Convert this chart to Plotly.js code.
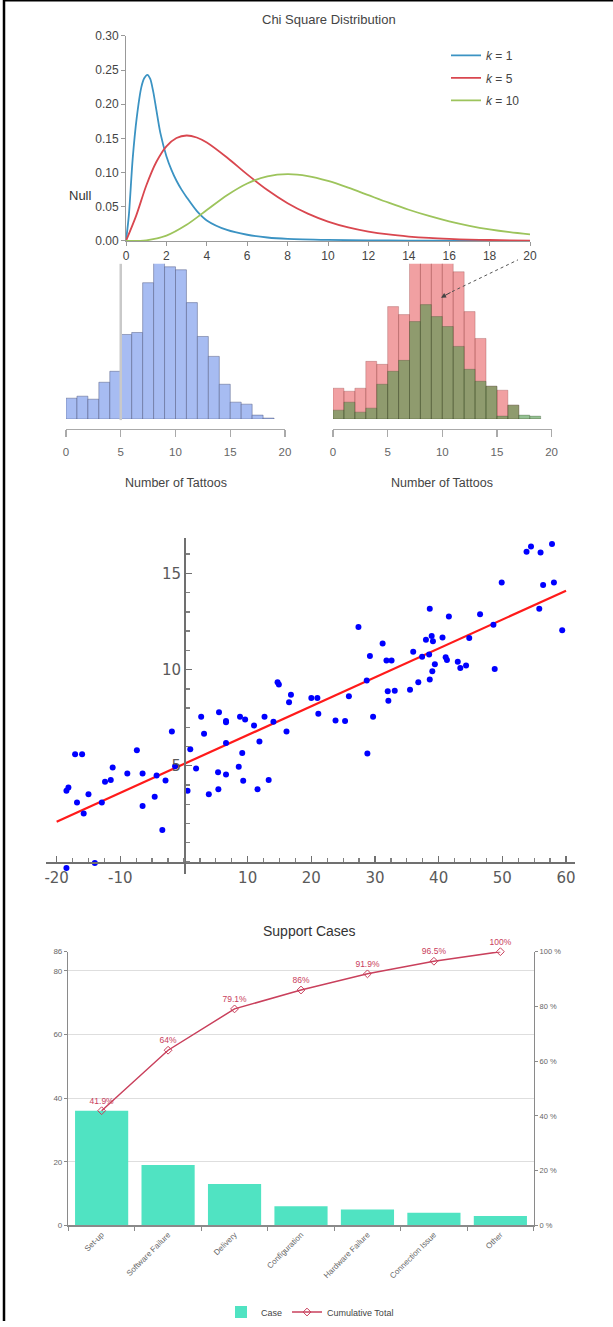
<!DOCTYPE html>
<html>
<head>
<meta charset="utf-8">
<script src="https://cdn.plot.ly/plotly-3.0.1.min.js"></script>
<style>html,body{margin:0;padding:0;background:#fff;}#chart{width:613px;height:1327px;}</style>
</head>
<body>
<div id="chart"></div>
<script>
// ---------- Chi square distribution ----------
const chiX1 = [0,0.14,0.33,0.53,0.76,0.9,1.06,1.2,1.35,1.5,1.7,2.0,2.25,2.5,2.75,3.0,3.5,4,5,6,7,8,10,12,14,16,18,20];
const chiK1 = [0,0.037,0.12,0.18,0.225,0.238,0.243,0.237,0.218,0.192,0.158,0.124,0.104,0.088,0.075,0.064,0.044,0.030,0.016,0.009,0.005,0.003,0.0015,0.0008,0.0004,0.0002,0.0001,0];
const chiX5 = [0,0.5,1,1.5,2,2.5,3,3.5,4,5,6,7,8,9,10,11,12,13,14,15,16,17,18,19,20];
const chiK5 = [0,0.0366,0.0807,0.1154,0.1384,0.1506,0.1542,0.1513,0.1440,0.1220,0.0973,0.0744,0.0551,0.0399,0.0283,0.0198,0.0137,0.0094,0.0064,0.0043,0.0029,0.0019,0.0013,0.0008,0.0005];
const chiX10 = [0,1,2,3,4,5,6,7,8,9,10,11,12,13,14,15,16,17,18,19,20];
const chiK10 = [0,0.0008,0.0077,0.0235,0.0451,0.0668,0.0840,0.0944,0.0977,0.0949,0.0877,0.0779,0.0669,0.0559,0.0456,0.0365,0.0286,0.0221,0.0168,0.0127,0.0095];
const chiNames = ["<i>k</i> = 1","<i>k</i> = 5","<i>k</i> = 10"];

// ---------- Histograms (Number of Tattoos) ----------
const tattooBins = [0,1,2,3,4,5,6,7,8,9,10,11,12,13,14,15,16,17,18];
const blueCounts = [21,23,20,37,48,85,87,137,175,153,150,117,83,63,35,17,15,4,1];
const redCounts = [31,28,31,58,55,113,105,172,190,186,168,148,108,81,33,29,14,0,0];
const greenCounts = [9,17,7,11,35,48,59,98,115,103,93,73,50,38,33,3,14,4,3];
const histTicks = [0,5,10,15,20];

// ---------- Scatter with regression line ----------
const scX = [-18.46,-18.15,-17.1,-16.0,-16.8,-15.75,-15.0,-18.46,-14.0,-12.9,-12.4,-11.5,-11.2,-8.9,-7.4,-6.5,-6.5,-4.6,-4.3,-3.4,-2.9,-1.9,-1.4,0.56,0.99,1.9,2.7,3.15,3.9,5.5,5.35,5.4,6.6,6.6,6.6,6.6,8.6,8.8,9.15,9.3,9.6,11.0,11.55,11.85,12.65,13.3,14.05,14.7,14.9,16.1,16.5,16.8,20.0,20.95,21.1,23.8,25.3,25.9,27.4,28.7,28.8,29.2,29.7,31.2,31.8,32.6,32.0,32.1,33.1,35.5,36.0,36.8,37.4,38.0,38.6,38.5,38.6,38.9,39.1,39.0,39.4,40.6,41.1,41.3,41.6,43.0,43.4,44.3,44.8,46.5,48.6,48.8,49.9,53.8,54.5,56.0,57.8,55.8,56.4,58.1,59.4];
const scY = [3.71,3.88,5.6,5.6,3.10,2.53,3.53,-0.31,-0.05,3.10,4.17,4.26,4.91,4.60,5.81,4.60,2.91,3.40,4.50,1.67,4.24,6.78,4.98,3.71,5.86,4.86,7.55,6.67,3.53,7.79,4.67,3.78,7.33,7.26,6.19,4.55,4.95,7.55,5.67,4.22,7.41,7.09,3.79,6.26,7.55,4.26,7.29,9.34,9.22,6.78,8.31,8.69,8.52,8.52,7.71,7.36,7.33,8.62,12.22,9.43,5.64,10.71,7.55,11.36,10.47,10.47,8.88,8.38,8.90,8.95,10.93,9.34,10.67,11.55,13.16,10.78,9.48,11.74,11.47,9.91,10.28,11.67,10.64,10.50,12.76,10.41,10.09,10.21,11.64,12.88,12.33,10.03,14.53,16.12,16.40,16.09,16.53,13.16,14.40,14.53,12.05];
const fitX = [-20, 60];
const fitY = [2.1, 14.1];
const scXTicks = [-20,-10,10,20,30,40,50,60];
const scXTickText = ["-20","-10","10","20","30","40","50","60"];
const scYTicks = [5,10,15];

// ---------- Pareto: Support Cases ----------
const caseCats = ["Set-up","Software Failure","Delivery","Configuration","Hardware Failure","Connection Issue","Other"];
const caseCounts = [36,19,13,6,5,4,3];
const cumPct = [41.9,64,79.1,86,91.9,96.5,100];
const cumLabels = ["41.9%","64%","79.1%","86%","91.9%","96.5%","100%"];
const leftTicks = [0,20,40,60,80,86];
const rightTicks = [0,20,40,60,80,100];
const rightTickText = ["0 %","20 %","40 %","60 %","80 %","100 %"];

// ---------- helpers: pixel -> paper ----------
const W = 613, H = 1327;
const X = p => p / W;
const Y = p => 1 - p / H;

const traces = [];
const chiColors = ["#3b93c3", "#d9474f", "#9dc45c"];
[[chiX1, chiK1], [chiX5, chiK5], [chiX10, chiK10]].forEach((d, i) => {
  traces.push({x: d[0], y: d[1], type: "scatter", mode: "lines", name: chiNames[i], legendgroup: "g" + i,
    line: {color: chiColors[i], width: 1.8, shape: "spline", smoothing: 0.8},
    xaxis: "x", yaxis: "y", legend: "legend", showlegend: true, hoverinfo: "skip"});
});

traces.push({x: tattooBins, y: blueCounts, type: "bar", width: 1, offset: 0,
  marker: {color: "#a7bcf2", line: {color: "rgba(70,80,120,0.45)", width: 1}},
  xaxis: "x2", yaxis: "y2", showlegend: false, hoverinfo: "skip"});
traces.push({x: tattooBins, y: redCounts, type: "bar", width: 1, offset: 0,
  marker: {color: "rgba(227,65,69,0.5)", line: {color: "rgba(120,40,40,0.25)", width: 1}},
  xaxis: "x3", yaxis: "y3", showlegend: false, hoverinfo: "skip"});
traces.push({x: tattooBins, y: greenCounts, type: "bar", width: 1, offset: 0,
  marker: {color: "rgba(78,152,75,0.6)", line: {color: "rgba(40,60,30,0.25)", width: 1}},
  xaxis: "x3", yaxis: "y3", showlegend: false, hoverinfo: "skip"});

traces.push({x: fitX, y: fitY, type: "scatter", mode: "lines",
  line: {color: "#ff1a1a", width: 2.2}, xaxis: "x4", yaxis: "y4", showlegend: false, hoverinfo: "skip"});
traces.push({x: scX, y: scY, type: "scatter", mode: "markers", cliponaxis: false,
  marker: {color: "#0000ff", size: 6}, xaxis: "x4", yaxis: "y4", showlegend: false, hoverinfo: "skip"});

traces.push({x: caseCats, y: caseCounts, type: "bar", name: "Case", width: 0.8,
  marker: {color: "#50e3c2"}, xaxis: "x5", yaxis: "y5", legend: "legend2", showlegend: true, hoverinfo: "skip"});
traces.push({x: caseCats, y: cumPct, type: "scatter", mode: "lines+markers+text", name: "Cumulative Total",
  text: cumLabels, textposition: "top center", textfont: {size: 8.5, color: "#c9405c", family: "Liberation Sans, Arial"},
  line: {color: "#c9405c", width: 1.5}, marker: {symbol: "diamond-open", size: 6, color: "#c9405c"},
  cliponaxis: false, xaxis: "x5", yaxis: "y6", legend: "legend2", showlegend: true, hoverinfo: "skip"});

const chiFont = {family: "Liberation Sans, Arial", size: 12, color: "#444"};
const histAxis = (left, right) => ({
  domain: [X(left), X(right)], range: [0, 20], anchor: "free", position: Y(431),
  showgrid: false, zeroline: false, showline: true, linecolor: "#aaa", linewidth: 1.2,
  ticks: "outside", ticklen: 7, tickcolor: "#aaa", tickwidth: 1.2, tickvals: histTicks,
  ticklabelstandoff: 5, tickfont: {family: "Liberation Sans, Arial", size: 11.5, color: "#666"}
});
const histY = {domain: [Y(421), Y(265)], range: [0, 156], visible: false, fixedrange: true};
const ann = (text, px, py, size, color) => ({text: text, xref: "paper", yref: "paper", x: X(px), y: Y(py),
  xanchor: "center", yanchor: "middle", showarrow: false,
  font: {family: "Liberation Sans, Arial", size: size, color: color}});

const layout = {
  width: W, height: H, margin: {l: 0, r: 0, t: 0, b: 0, pad: 0},
  paper_bgcolor: "#ffffff", plot_bgcolor: "rgba(0,0,0,0)",
  barmode: "overlay", hovermode: false,
  font: {family: "Liberation Sans, Arial", color: "#444"},
  xaxis: {domain: [X(126), X(530)], range: [0, 20], anchor: "y", dtick: 2, tick0: 0,
    showgrid: false, zeroline: false, showline: true, linecolor: "#999",
    ticks: "outside", ticklen: 4, tickcolor: "#999", tickfont: chiFont},
  yaxis: {domain: [Y(242), Y(36)], range: [0, 0.30], anchor: "x", dtick: 0.05, tickformat: ".2f",
    showgrid: false, zeroline: false, showline: true, linecolor: "#999",
    ticks: "outside", ticklen: 4, tickcolor: "#999", tickfont: chiFont},
  xaxis2: histAxis(66, 285),
  yaxis2: Object.assign({anchor: "x2"}, histY),
  xaxis3: histAxis(333, 551.6),
  yaxis3: Object.assign({anchor: "x3"}, histY),
  xaxis4: {domain: [X(46), X(575)], range: [-21.67, 61.41], anchor: "free", position: Y(866),
    showgrid: false, zeroline: false, showline: true, linecolor: "#707070", linewidth: 1.5,
    ticks: "inside", ticklen: 6, tickcolor: "#707070", tickwidth: 1.3,
    tickvals: scXTicks, ticktext: scXTickText, ticklabelstandoff: 1,
    minor: {ticks: "inside", ticklen: 4, dtick: 2.5, tick0: 0, tickcolor: "#808080", showgrid: false},
    tickfont: {family: "DejaVu Sans", size: 15, color: "#5a5a5a"}},
  yaxis4: {domain: [Y(878), Y(540)], range: [-0.62, 16.86], anchor: "free", position: X(184),
    showgrid: false, zeroline: false, showline: true, linecolor: "#707070", linewidth: 1.5,
    ticks: "inside", ticklen: 6, tickcolor: "#707070", tickwidth: 1.3, tickvals: scYTicks,
    minor: {ticks: "inside", ticklen: 4, dtick: 1, tick0: 0, tickcolor: "#808080", showgrid: false},
    tickfont: {family: "DejaVu Sans", size: 15, color: "#5a5a5a"}},
  xaxis5: {domain: [X(68.4), X(533.6)], anchor: "y5", type: "category", tickangle: -45,
    showgrid: false, zeroline: false, showline: true, linecolor: "#8a8a8a", linewidth: 1.5,
    ticks: "outside", tickson: "boundaries", ticklen: 4, tickcolor: "#8a8a8a",
    tickfont: {family: "Liberation Sans, Arial", size: 8, color: "#666"}},
  yaxis5: {domain: [Y(1231), Y(956)], range: [0, 86], anchor: "x5", tickvals: leftTicks,
    showgrid: true, gridcolor: "#dedede", gridwidth: 1, zeroline: false,
    showline: true, linecolor: "#8a8a8a", linewidth: 1.5, ticks: "outside", ticklen: 3, tickcolor: "#8a8a8a",
    tickfont: {family: "Liberation Sans, Arial", size: 8, color: "#666"}},
  yaxis6: {overlaying: "y5", side: "right", anchor: "x5", range: [0, 100], tickvals: rightTicks, ticktext: rightTickText,
    showgrid: false, zeroline: false, showline: true, linecolor: "#8a8a8a", linewidth: 1.5,
    ticks: "outside", ticklen: 3, tickcolor: "#8a8a8a",
    tickfont: {family: "Liberation Sans, Arial", size: 7.5, color: "#666"}},
  legend: {x: X(446), y: Y(41), xanchor: "left", yanchor: "top", bgcolor: "rgba(0,0,0,0)",
    font: {family: "Liberation Sans, Arial", size: 12, color: "#444"}, tracegroupgap: 3.5},
  legend2: {x: X(310), y: Y(1318), xanchor: "center", yanchor: "middle", orientation: "h",
    bgcolor: "rgba(0,0,0,0)", font: {family: "Liberation Sans, Arial", size: 9, color: "#444"}},
  annotations: [
    ann("Chi Square Distribution", 329, 20, 13, "#444"),
    ann("Null", 80, 196, 13, "#333"),
    ann("Number of Tattoos", 176, 485, 12.5, "#444"),
    ann("Number of Tattoos", 442, 485, 12.5, "#444"),
    {text: "", xref: "paper", yref: "paper", x: X(441), y: Y(299), ax: 11, ay: -6,
      showarrow: true, arrowhead: 2, arrowsize: 1, arrowwidth: 1, arrowcolor: "#444"},
    ann("Support Cases", 309, 935, 14, "#333")
  ],
  shapes: [
    {type: "line", xref: "paper", yref: "paper", x0: X(4), x1: X(4), y0: 0, y1: 1, line: {color: "#000", width: 2.5}},
    {type: "line", xref: "paper", yref: "paper", x0: X(3), x1: 1, y0: Y(0.8), y1: Y(0.8), line: {color: "#000", width: 1.6}},
    {type: "line", xref: "x2", yref: "paper", x0: 5, x1: 5, y0: Y(422), y1: Y(265), line: {color: "#c9c9c9", width: 2.5}},
    {type: "line", xref: "paper", yref: "paper", x0: X(452), y0: Y(293), x1: X(518), y1: Y(261),
      line: {color: "#555", width: 1, dash: "dot"}}
  ]
};

Plotly.newPlot("chart", traces, layout, {displayModeBar: false, staticPlot: true});
</script>
</body>
</html>
